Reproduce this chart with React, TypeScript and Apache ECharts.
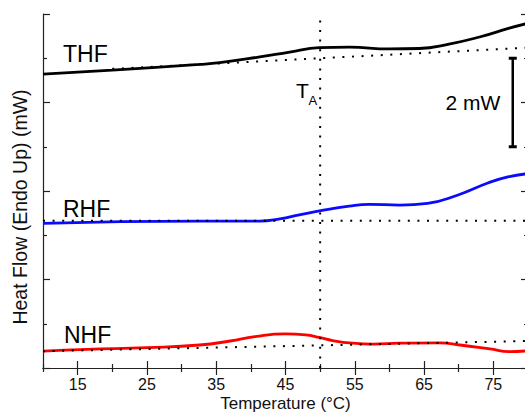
import React, { useEffect, useRef } from "react";
import * as echarts from "echarts";

// Temperature (°C) / heat flow (mW, arbitrary offset) readings
const thfT = [10, 20, 32.6, 35.5, 41.3, 45.6, 49.9, 54.2, 60, 64.3, 68.6, 73, 77.3, 80];
const thfV = [6.64, 6.73, 6.86, 6.9, 7.03, 7.14, 7.24, 7.25, 7.21, 7.22, 7.32, 7.48, 7.68, 7.79];
const rhfT = [10, 32.6, 41.3, 44.2, 47, 49.9, 54.2, 57.1, 61.5, 65.5, 69.9, 74.2, 77.1, 80];
const rhfV = [3.27, 3.32, 3.32, 3.37, 3.46, 3.55, 3.66, 3.7, 3.68, 3.72, 3.91, 4.18, 4.32, 4.39];
const nhfT = [10, 16.3, 25, 32.6, 37, 40.6, 45, 47.9, 49.9, 51.8, 54.7, 57.6, 61.5, 67.3, 70.2, 74.5, 77.3, 80];
const nhfV = [0.38, 0.42, 0.46, 0.52, 0.61, 0.71, 0.77, 0.75, 0.69, 0.62, 0.56, 0.54, 0.56, 0.57, 0.52, 0.43, 0.37, 0.39];

const thfBaseT = [20, 80];
const thfBaseV = [6.76, 7.24];
const rhfBaseT = [10, 80];
const rhfBaseV = [3.33, 3.33];
const nhfBaseT = [10, 80];
const nhfBaseV = [0.38, 0.61];

const transitionT = 50; // T_A
const scaleBarT = 77.8;
const scaleBarV = [5, 7]; // 2 mW
const xTickLabels = [15, 25, 35, 45, 55, 65, 75];

const seriesNames = ["THF", "RHF", "NHF"];

const zip = (a: number[], b: number[]) => a.map((t, i) => [t, b[i]]);

const FONT = "Liberation Sans, Arial, Helvetica, sans-serif";

export default function App() {
  const ref = useRef<HTMLDivElement>(null);
  useEffect(() => {
    if (!ref.current) return;
    const chart = echarts.init(ref.current, null, { renderer: "svg" });
    const dotted = {
      color: "#000",
      width: 2,
      type: [2, 7.6] as number[],
    };
    const axisLineStyle = { color: "#222", width: 1.2 };
    const xCommon = {
      type: "value" as const,
      min: 10,
      max: 80,
      interval: 10,
      axisLine: { show: true, lineStyle: axisLineStyle },
      axisTick: { show: true, inside: true, length: 4, lineStyle: axisLineStyle },
      minorTick: { show: true, splitNumber: 2, length: 7, lineStyle: axisLineStyle },
      splitLine: { show: false },
      minorSplitLine: { show: false },
    };
    const yCommon = {
      type: "value" as const,
      min: 0,
      max: 8,
      interval: 2,
      axisLine: { show: true, lineStyle: axisLineStyle },
      axisTick: { show: true, inside: true, length: 7, lineStyle: axisLineStyle },
      minorTick: { show: true, splitNumber: 2, length: 4, lineStyle: axisLineStyle },
      axisLabel: { show: false },
      splitLine: { show: false },
      minorSplitLine: { show: false },
    };
    chart.setOption({
      animation: false,
      backgroundColor: "#fff",
      textStyle: { fontFamily: FONT },
      grid: {
        left: 43,
        right: -3,
        top: 14,
        bottom: 44,
        containLabel: false,
        outerBoundsMode: "none",
      },
      xAxis: [
        {
          ...xCommon,
          position: "bottom",
          name: "Temperature (°C)",
          nameLocation: "middle",
          nameGap: 27,
          nameMoveOverlap: false,
          nameTextStyle: { fontSize: 17, color: "#111", fontFamily: FONT, verticalAlign: "top" },
          axisLabel: {
            show: true,
            customValues: xTickLabels,
            fontSize: 16,
            color: "#111",
            margin: 8,
            fontFamily: FONT,
          },
        },
        {
          ...xCommon,
          position: "top",
          axisLabel: { show: false },
        },
      ],
      yAxis: [
        { ...yCommon, position: "left" },
        { ...yCommon, position: "right" },
      ],
      series: [
        {
          name: seriesNames[0],
          type: "line",
          data: zip(thfT, thfV),
          smooth: 0.5,
          showSymbol: false,
          lineStyle: { color: "#000", width: 2.8 },
          z: 2,
        },
        {
          name: seriesNames[1],
          type: "line",
          data: zip(rhfT, rhfV),
          smooth: 0.5,
          showSymbol: false,
          lineStyle: { color: "#0a0aff", width: 2.8 },
          z: 2,
        },
        {
          name: seriesNames[2],
          type: "line",
          data: zip(nhfT, nhfV),
          smooth: 0.5,
          showSymbol: false,
          lineStyle: { color: "#ff0000", width: 2.8 },
          z: 2,
        },
        { type: "line", data: zip(thfBaseT, thfBaseV), showSymbol: false, lineStyle: dotted, z: 3 },
        { type: "line", data: zip(rhfBaseT, rhfBaseV), showSymbol: false, lineStyle: dotted, z: 3 },
        { type: "line", data: zip(nhfBaseT, nhfBaseV), showSymbol: false, lineStyle: dotted, z: 3 },
        {
          type: "line",
          data: [
            [transitionT, 0],
            [transitionT, 8],
          ],
          showSymbol: false,
          lineStyle: dotted,
          z: 3,
        },
        {
          type: "line",
          data: scaleBarV.map((v) => [scaleBarT, v]),
          symbol: "rect",
          symbolSize: [8, 3],
          showSymbol: true,
          itemStyle: { color: "#000" },
          lineStyle: { color: "#000", width: 2.5 },
          z: 4,
        },
      ],
      graphic: [
        {
          type: "text",
          x: 20,
          y: 207,
          rotation: Math.PI / 2,
          style: {
            text: "Heat Flow (Endo Up) (mW)",
            fontSize: 19.5,
            fontFamily: FONT,
            fill: "#111",
            textAlign: "center",
            textVerticalAlign: "middle",
          },
        },
        {
          type: "text",
          x: 63,
          y: 54,
          style: { text: seriesNames[0], fontSize: 23, fontFamily: FONT, fill: "#000", textVerticalAlign: "middle" },
        },
        {
          type: "text",
          x: 63,
          y: 209,
          style: { text: seriesNames[1], fontSize: 23, fontFamily: FONT, fill: "#000", textVerticalAlign: "middle" },
        },
        {
          type: "text",
          x: 64,
          y: 335,
          style: { text: seriesNames[2], fontSize: 23, fontFamily: FONT, fill: "#000", textVerticalAlign: "middle" },
        },
        {
          type: "text",
          x: 296,
          y: 90,
          style: { text: "T", fontSize: 21, fontFamily: FONT, fill: "#000", textVerticalAlign: "middle" },
        },
        {
          type: "text",
          x: 308.5,
          y: 100,
          style: { text: "A", fontSize: 13, fontFamily: FONT, fill: "#000", textVerticalAlign: "middle" },
        },
        {
          type: "text",
          x: 473,
          y: 102,
          style: {
            text: "2 mW",
            fontSize: 21,
            fontFamily: FONT,
            fill: "#000",
            textAlign: "center",
            textVerticalAlign: "middle",
          },
        },
      ],
    });
    return () => chart.dispose();
  }, []);
  return <div ref={ref} style={{ width: 525, height: 412, position: "absolute", left: 0, top: 0 }} />;
}
